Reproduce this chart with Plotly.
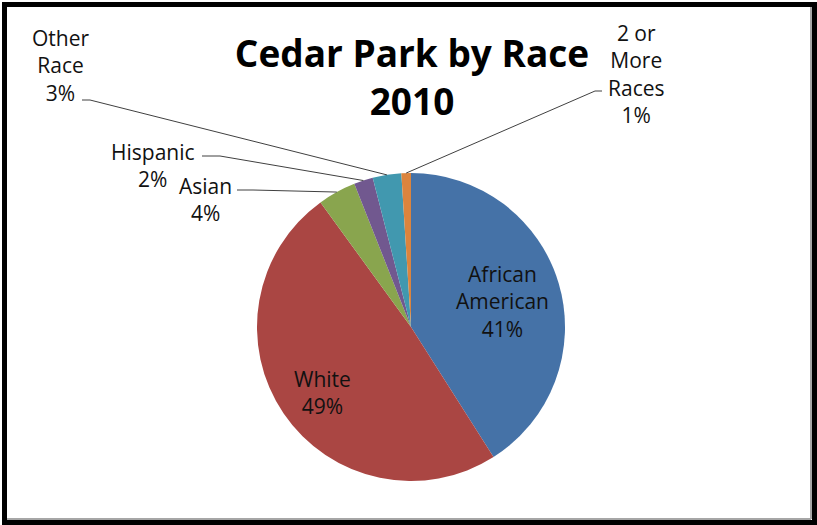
import plotly.graph_objects as go
import math

# ---- data ----
categories = ["African American", "White", "Asian", "Hispanic", "Other Race", "2 or More Races"]
display_names = ["African<br>American", "White", "Asian", "Hispanic", "Other<br>Race", "2 or<br>More<br>Races"]
percents = [41, 49, 4, 2, 3, 1]
colors = ["#4572A7", "#AA4643", "#89A54E", "#71588F", "#4198AF", "#DB843D"]
title_text = "Cedar Park by Race<br>2010"

W, H = 817, 525
FONT = "Open Sans"

# pie geometry (pixels)
cx, cy, r = 411, 327, 154

def px(x):
    return x / W

def py(y):
    return 1 - y / H

fig = go.Figure()
fig.add_trace(go.Pie(
    labels=categories,
    values=percents,
    marker=dict(colors=colors, line=dict(width=0)),
    sort=False,
    direction="clockwise",
    rotation=0,
    textinfo="none",
    hoverinfo="label+percent",
    showlegend=False,
    domain=dict(x=[px(cx - r), px(cx + r)], y=[py(cy + r), py(cy - r)]),
))

# label placement (layout): block centre in pixels, leader line start/elbow
label_pos = {
    "African American": dict(x=503, y=301),
    "White": dict(x=322, y=392),
    "Asian": dict(x=205, y=199, line=[(237, 190), (253, 190)]),
    "Hispanic": dict(x=153, y=166, line=[(202, 156), (220, 156)]),
    "Other Race": dict(x=60, y=65, line=[(82, 100), (90, 100)]),
    "2 or More Races": dict(x=636, y=74, line=[(602, 91), (595, 91)]),
}

total = sum(percents)
annotations = []
shapes = []
cum = 0.0
for cat, name, v in zip(categories, display_names, percents):
    mid = (cum + v / 2) / total * 2 * math.pi
    cum += v
    pos = label_pos[cat]
    pct = round(v / total * 100)
    annotations.append(dict(
        x=px(pos["x"]), y=py(pos["y"]), xref="paper", yref="paper",
        text=f"{name}<br>{pct}%", showarrow=False,
        xanchor="center", yanchor="middle", align="center",
        font=dict(family=FONT, size=21, color="#111111"),
    ))
    if "line" in pos:
        ex = cx + r * math.sin(mid)
        ey = cy - r * math.cos(mid)
        (sx, sy), (kx, ky) = pos["line"]
        path = (f"M {px(sx)},{py(sy)} L {px(kx)},{py(ky)} L {px(ex)},{py(ey)}")
        shapes.append(dict(type="path", path=path, xref="paper", yref="paper",
                           line=dict(color="#404040", width=1)))

# chart frame
shapes.append(dict(type="rect", xref="paper", yref="paper",
                   x0=px(4.5), x1=px(814.5), y0=py(522.5), y1=py(4.5),
                   line=dict(color="#000000", width=5)))
shapes.append(dict(type="line", xref="paper", yref="paper",
                   x0=px(811), x1=px(811), y0=py(519), y1=py(7),
                   line=dict(color="#A6A6A6", width=2)))
shapes.append(dict(type="line", xref="paper", yref="paper",
                   x0=px(7), x1=px(811), y0=py(519), y1=py(519),
                   line=dict(color="#A6A6A6", width=2)))

fig.update_layout(
    width=W, height=H,
    margin=dict(l=0, r=0, t=0, b=0),
    paper_bgcolor="white", plot_bgcolor="white",
    title=dict(text=f"<b>{title_text}</b>", x=px(412), xanchor="center",
               y=py(67), yanchor="middle", yref="container",
               font=dict(family=FONT, size=37, color="#000000")),
    annotations=annotations,
    shapes=shapes,
)

fig.write_html("out.html")
